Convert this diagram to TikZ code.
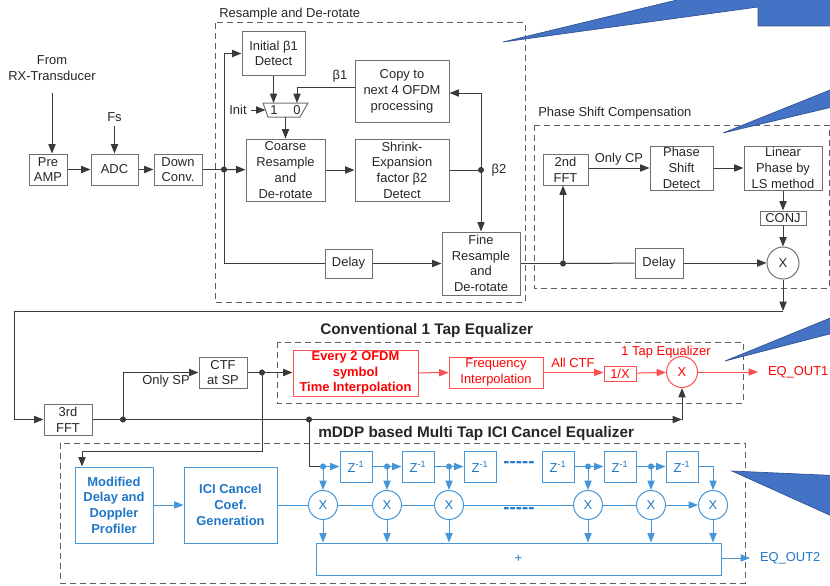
\documentclass[tikz,border=0pt]{standalone}
\usepackage{fontspec}
\setmainfont{Liberation Sans}
\usetikzlibrary{arrows.meta,calc}
\definecolor{ln}{HTML}{3A3A3A}
\definecolor{bd}{HTML}{707070}
\definecolor{tx}{HTML}{262626}
\definecolor{rd}{HTML}{FF0000}
\definecolor{rdl}{HTML}{FF5050}
\definecolor{bl}{HTML}{1F77C8}
\definecolor{bll}{HTML}{4796D8}
\definecolor{cfill}{HTML}{4472C4}
\definecolor{cdraw}{HTML}{2F528F}
\definecolor{dsh}{HTML}{606060}
\begin{document}
\begin{tikzpicture}[x=0.75pt,y=-0.75pt,
  every node/.style={font=\fontsize{9.7pt}{11.8pt}\selectfont, text=tx},
  sz/.style 2 args={minimum width=#1*0.75pt, minimum height=#2*0.75pt},
  box/.style={draw=bd, line width=0.75pt, align=center, inner sep=0.5pt},
  rbox/.style={draw=rdl, line width=0.75pt, align=center, inner sep=0.5pt, text=rd},
  bbox/.style={draw=bll, line width=0.75pt, align=center, inner sep=0.5pt, text=bl, font=\fontsize{9.7pt}{11.8pt}\selectfont\bfseries},
  zbox/.style={draw=bll, line width=0.75pt, align=center, inner sep=0.5pt, text=bl},
  circ/.style={draw=bd, circle, line width=0.75pt, minimum size=32*0.75pt, inner sep=0pt},
  rcirc/.style={draw=rdl, circle, line width=0.75pt, minimum size=31*0.75pt, inner sep=0pt, text=rd},
  bcirc/.style={draw=bll, circle, line width=0.75pt, minimum size=29*0.75pt, inner sep=0pt, text=bl},
  wire/.style={draw=ln, line width=0.75pt},
  rwire/.style={draw=rdl, line width=0.75pt},
  bwire/.style={draw=bll, line width=0.75pt},
  arr/.style={-{Triangle[length=7pt,width=5.4pt]}},
  grp/.style={draw=dsh, line width=0.75pt, dash pattern=on 4.5pt off 3pt},
  title/.style={font=\fontsize{11.5pt}{13pt}\selectfont\bfseries, anchor=west, inner sep=0pt},
  gtitle/.style={anchor=west, inner sep=0pt},
  dotsty/.style={font=\fontsize{14pt}{14pt}\selectfont\bfseries, text=bl, inner sep=0pt}
]
\useasboundingbox (0,0) rectangle (830,585);

% ---------- group frames ----------
\draw[grp] (215,23) rectangle (525,302);
\draw[grp] (534,125) rectangle (829,288);
\draw[grp] (277,342) rectangle (743,403);
\draw[grp] (60,443) rectangle (745,583);
\node[gtitle] (tres) at (219,14) {Resample and De-rotate};
\node[gtitle] (tpsc) at (538,113) {Phase Shift Compensation};
\node[title] (tconv) at (320,331) {Conventional 1 Tap Equalizer};
\node[title] (tmddp) at (318,434) {mDDP based Multi Tap ICI Cancel Equalizer};

% ---------- front end ----------
\node[align=center] (from) at (52,68) {From\\RX-Transducer};
\coordinate (fromb) at (52,93);
\node (fs) at (114.5,117) {Fs};
\node[box,sz={38}{31}] (pre) at (48,169.5) {Pre\\AMP};
\node[box,sz={47}{31}] (adc) at (114.5,169.5) {ADC};
\node[box,sz={48}{31}] (down) at (178,169.5) {Down\\Conv.};
\draw[wire,arr] (fromb) -- (fromb |- pre.north);
\draw[wire,arr] (fs) -- (adc);
\draw[wire,arr] (pre) -- (adc);
\draw[wire,arr] (adc) -- (down);

% ---------- resample and de-rotate ----------
\coordinate (j1) at (224,169.5);
\node[box,sz={63}{43}] (ib) at (273.5,53.5) {Initial β1\\Detect};
\node[box,sz={94}{61}] (copy) at (402,91.5) {Copy to\\next 4 OFDM\\processing};
\node[box,sz={79}{62}] (coarse) at (285.5,170) {Coarse\\Resample\\and\\De-rotate};
\node[box,sz={94}{62}] (shrink) at (402,170) {Shrink-\\Expansion\\factor β2\\Detect};
\node[box,sz={47}{29}] (dl1) at (348.5,263.5) {Delay};
\node[box,sz={78}{63}] (fine) at (481,263.5) {Fine\\Resample\\and\\De-rotate};
\draw[bd, line width=0.75pt] (263,103) -- (308,103) -- (300,117) -- (268,117) -- cycle;
\node[inner sep=0pt] (mux1) at (274,110.5) {1};
\node[inner sep=0pt] (mux0) at (297,110.5) {0};
\coordinate (muxin1) at (273.5,103);
\coordinate (muxin0) at (297,103);
\coordinate (muxinit) at (265.5,110);
\coordinate (muxout) at (285.5,117);
\node (initl) at (238,110) {Init};
\node (b1l) at (340,76) {β1};
\node[anchor=west] (b2l) at (487,170) {β2};
\coordinate (j2) at (481,170);

\draw[wire] (down) -- (j1);
\draw[wire,arr] (j1) |- (ib);
\draw[wire,arr] (j1) -- (coarse);
\draw[wire] (j1) |- (dl1);
\draw[wire,arr] (dl1) -- (fine);
\draw[wire,arr] (ib) -- (muxin1);
\draw[wire,arr] (copy.west |- 0,87) -| (muxin0);
\draw[wire,arr] (initl) -- (muxinit);
\draw[wire,arr] (muxout) -- (coarse);
\draw[wire,arr] (coarse) -- (shrink);
\draw[wire] (shrink) -- (j2);
\draw[wire,arr] (j2) -- (fine);
\draw[wire,arr] (j2) |- (copy.east |- 0,93);

% ---------- phase shift compensation ----------
\coordinate (j3) at (563,263.5);
\node[box,sz={45}{31}] (fft2) at (565.5,169.5) {2nd\\FFT};
\node[box,sz={63}{44}] (psd) at (681.5,168) {Phase\\Shift\\Detect};
\node[box,sz={78}{44}] (lin) at (783,168) {Linear\\Phase by\\LS method};
\node[box,sz={46}{14}] (conj) at (783,218) {CONJ};
\node[circ] (x1) at (783,263) {X};
\node[box,sz={48}{30}] (dl2) at (659,263) {Delay};
\node (ocp) at (619,159) {Only CP};
\draw[wire] (fine) -- (j3);
\draw[wire,arr] (j3) -- (j3 |- fft2.south);
\draw[wire] (j3) -- (dl2);
\draw[wire,arr] (dl2) -- (x1);
\draw[wire,arr] (fft2.east |- 0,168) -- (psd.west |- 0,168);
\draw[wire,arr] (psd) -- (lin);
\draw[wire,arr] (lin) -- (conj);
\draw[wire,arr] (conj) -- (x1);

% ---------- to 3rd FFT ----------
\coordinate (c1) at (783,311);
\coordinate (c2) at (14,311);
\node[box,sz={48}{31}] (fft3) at (68,419.5) {3rd\\FFT};
\draw[wire,arr] (x1) -- (c1);
\draw[wire,arr] (c1) -- (c2) |- (fft3);

\coordinate (j4) at (123,419.5);
\coordinate (j5) at (309,419.5);
\coordinate (c3) at (682,419.5);
\node[box,sz={48}{31}] (ctf) at (223,372.5) {CTF\\at SP};
\node (osp) at (166,381) {Only SP};
\coordinate (j6) at (262,372.5);
\draw[wire] (fft3) -- (j4) -- (j5);
\draw[wire,arr] (j5) -- (c3);
\draw[wire,arr] (j4) |- (ctf);
\draw[wire] (ctf) -- (j6);

% ---------- conventional 1 tap equalizer ----------
\node[rbox,sz={125}{46},font=\fontsize{9.7pt}{11.8pt}\selectfont\bfseries] (red1) at (355.5,373) {Every 2 OFDM\\symbol\\Time Interpolation};
\node[rbox,sz={94}{31}] (freq) at (496,372.5) {Frequency\\Interpolation};
\node[rbox,sz={32}{15}] (inv) at (620,373.5) {1/X};
\node[rcirc] (x2) at (682,372) {X};
\node[text=rd] (allctf) at (573,363) {All CTF};
\node[text=rd] (tap1) at (666,352) {1 Tap Equalizer};
\node[text=rd, anchor=west, inner sep=0pt, outer xsep=7.5pt] (eq1) at (758,372) {EQ\_OUT1};
\draw[wire,arr] (j6) -- (j6 -| red1.west);
\draw[wire,arr] (c3) -- (x2);
\draw[rwire,arr] (red1) -- (freq);
\draw[rwire,arr] (freq) -- (freq.east -| inv.west);
\draw[rwire,arr] (inv) -- (x2);
\draw[rwire,arr] (x2) -- (eq1);

% ---------- mDDP multi tap equalizer ----------
\node[bbox,sz={78}{76}] (mod) at (114,505) {Modified\\Delay and\\Doppler\\Profiler};
\node[bbox,sz={93}{76}] (ici) at (230.5,505) {ICI Cancel\\Coef.\\Generation};
\coordinate (c4) at (82,451);
\draw[wire,arr] (j6) |- (c4) -- (c4 |- mod.north);
\draw[bwire,arr] (mod) -- (ici);

\foreach \i/\x in {1/356,2/418,3/480,4/558,5/620,6/682}
  \node[zbox,sz={32}{31}] (z\i) at (\x,466.5) {Z\textsuperscript{-1}};
\foreach \i/\x in {1/323,2/387,3/449,4/588,5/651,6/713}
  \node[bcirc] (m\i) at (\x,505) {X};
\node[zbox,sz={405}{32},inner sep=0pt] (sum) at (518.5,559) {+};
\node[dotsty] (dz) at (519,465) {-{}-{}-{}-{}-};
\node[dotsty] (dm) at (519,511) {-{}-{}-{}-{}-};

\coordinate (t1) at (323,466.5);
\coordinate (t2) at (387,466.5);
\coordinate (t3) at (449,466.5);
\coordinate (t4) at (588,466.5);
\coordinate (t5) at (651,466.5);
\draw[wire] (j5) |- (t1);
\draw[bwire,arr] (t1) -- (z1);
\draw[bwire] (z1) -- (t2);
\draw[bwire,arr] (t2) -- (z2);
\draw[bwire] (z2) -- (t3);
\draw[bwire,arr] (t3) -- (z3);
\draw[bwire] (z4) -- (t4);
\draw[bwire,arr] (t4) -- (z5);
\draw[bwire] (z5) -- (t5);
\draw[bwire,arr] (t5) -- (z6);
\draw[bwire,arr] (z6) -| (m6);
\foreach \i in {1,...,5} \draw[bwire,arr] (t\i) -- (m\i);
\draw[bwire] (ici) -- (m1) -- (m2) -- (m3) -- (m4) -- (m5);
\draw[bwire,arr] (m5) -- (m6);
\foreach \i in {1,...,6} \draw[bwire,arr] (m\i) -- (m\i |- sum.north);
\node[text=bl, anchor=west, inner sep=0pt, outer xsep=7.5pt] (eq2) at (750,558) {EQ\_OUT2};
\draw[bwire,arr] (sum.east |- 0,558) -- (eq2);

% dots
\foreach \p in {j1,j2,j3,j4,j5,j6} \fill[ln] (\p) circle (2.3pt);
\foreach \p in {t1,t2,t3,t4,t5} \fill[bll] (\p) circle (2.3pt);

% ---------- callouts ----------
\begin{scope}
\clip (0,0) rectangle (830,585);
\draw[fill=cfill, draw=cdraw, line width=0.5pt] (503,42) -- (758,7) -- (758,26) -- (845,26) -- (845,-15) -- (739,-15) -- cycle;
\draw[fill=cfill, draw=cdraw, line width=0.5pt] (723,133) -- (845,84) -- (845,104) -- cycle;
\draw[fill=cfill, draw=cdraw, line width=0.5pt] (725,361) -- (845,312) -- (845,330) -- cycle;
\draw[fill=cfill, draw=cdraw, line width=0.5pt] (732,471) -- (845,476) -- (845,522) -- cycle;
\end{scope}
\end{tikzpicture}
\end{document}
